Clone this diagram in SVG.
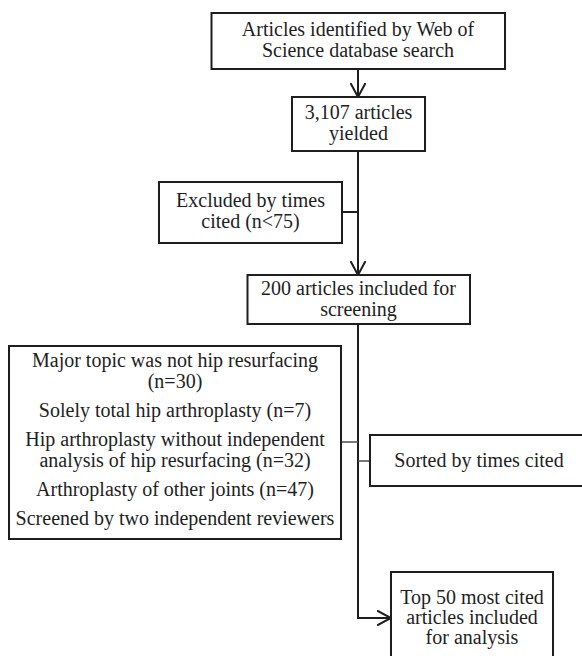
<svg xmlns="http://www.w3.org/2000/svg" width="582" height="656" viewBox="0 0 582 656">
<defs>
<style>
.box{fill:#fff;stroke:#1e1e1e;stroke-width:2}
.t{font-family:"Liberation Serif","Times New Roman",serif;font-size:20px;fill:#1e1e1e;text-anchor:middle}
.ln{fill:none;stroke:#1e1e1e;stroke-width:2}
.br{fill:none;stroke:#555;stroke-width:1.6}
</style>
<marker id="ah" markerWidth="16" markerHeight="16" refX="14" refY="8" orient="auto" markerUnits="userSpaceOnUse">
<path d="M0,0.5 L14,8 L0,15.5" fill="none" stroke="#1e1e1e" stroke-width="2"/>
</marker>
</defs>
<rect width="582" height="656" fill="#fff"/>
<g id="connectors">
<line class="ln" x1="358" y1="69" x2="358" y2="97" marker-end="url(#ah)"/>
<line class="ln" x1="358" y1="151" x2="358" y2="275" marker-end="url(#ah)"/>
<line class="ln" x1="342" y1="212" x2="358" y2="212"/>
<polyline class="ln" points="358,324 358,618 391,618" marker-end="url(#ah)"/>
<line class="br" x1="341" y1="442" x2="358" y2="442"/>
<line class="br" x1="358" y1="461" x2="370" y2="461"/>
</g>
<g id="n1">
<rect class="box" x="211.5" y="13" width="293.5" height="56"/>
<text class="t" x="358" y="36">Articles identified by Web of</text>
<text class="t" x="358" y="57">Science database search</text>
</g>
<g id="n2">
<rect class="box" x="292" y="97" width="133" height="54"/>
<text class="t" x="358.5" y="119">3,107 articles</text>
<text class="t" x="358.5" y="140">yielded</text>
</g>
<g id="n3">
<rect class="box" x="159" y="182" width="183" height="61"/>
<text class="t" x="250.5" y="207">Excluded by times</text>
<text class="t" x="250.5" y="228">cited (n&lt;75)</text>
</g>
<g id="n4">
<rect class="box" x="247.5" y="275" width="222.5" height="49"/>
<text class="t" x="358.5" y="295">200 articles included for</text>
<text class="t" x="358.5" y="316">screening</text>
</g>
<g id="n5">
<rect class="box" x="9" y="346" width="332" height="193"/>
<text class="t" x="175" y="367">Major topic was not hip resurfacing</text>
<text class="t" x="175" y="388">(n=30)</text>
<text class="t" x="175" y="417">Solely total hip arthroplasty (n=7)</text>
<text class="t" x="175" y="446">Hip arthroplasty without independent</text>
<text class="t" x="175" y="467">analysis of hip resurfacing (n=32)</text>
<text class="t" x="175" y="496">Arthroplasty of other joints (n=47)</text>
<text class="t" x="175" y="525">Screened by two independent reviewers</text>
</g>
<g id="n6">
<rect class="box" x="370" y="435" width="220" height="51"/>
<text class="t" x="479" y="467">Sorted by times cited</text>
</g>
<g id="n7">
<rect class="box" x="391" y="572" width="162" height="90"/>
<text class="t" x="472" y="604">Top 50 most cited</text>
<text class="t" x="472" y="624">articles included</text>
<text class="t" x="472" y="644">for analysis</text>
</g>
</svg>
